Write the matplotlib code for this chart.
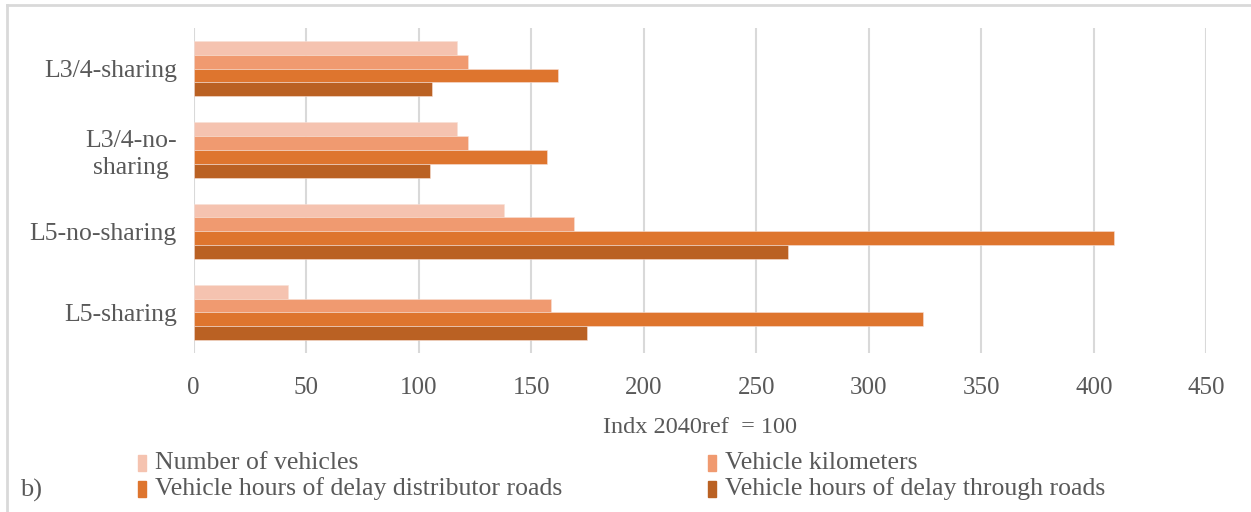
import matplotlib
matplotlib.use("Agg")
import matplotlib.pyplot as plt
from matplotlib.patches import Rectangle
import numpy as np

plt.rcParams['font.family'] = ['Liberation Serif', 'DejaVu Serif']

# data, top to bottom
scenarios = ["L3/4-sharing", "L3/4-no-\nsharing", "L5-no-sharing", "L5-sharing"]
series = ["Number of vehicles", "Vehicle kilometers",
          "Vehicle hours of delay distributor roads",
          "Vehicle hours of delay through roads"]
n_vehicles = [117, 117, 138, 42]
vehicle_km = [122, 122, 169, 159]
delay_distributor = [162, 157, 409, 324]
delay_through = [106, 105, 264, 175]
xticks = [0, 50, 100, 150, 200, 250, 300, 350, 400, 450]

colors = ["#F5C3B0", "#F09A70", "#DE752E", "#BA6123"]
txt_col = "#595959"

fig = plt.figure(figsize=(12.51, 5.12), dpi=100)
ax = fig.add_axes([0.1547, 0.3105, 0.9644 - 0.1547, 0.9453 - 0.3105])

values = [n_vehicles, vehicle_km, delay_distributor, delay_through]
h = 0.17
y = np.arange(len(scenarios))
for i, (vals, col) in enumerate(zip(values, colors)):
    ax.barh(y + (i - 1.5) * h, vals, height=h, color=col,
            edgecolor="#F8E0D6", linewidth=0.4, zorder=3)

ax.set_ylim(len(scenarios) - 0.5, -0.5)
ax.set_xlim(0, 450)
ax.set_xticks(xticks)
ax.set_yticks(y)
ax.set_yticklabels(scenarios, fontsize=18.5, color=txt_col, linespacing=1.25,
                   multialignment="center")
ax.set_xticklabels([str(t) for t in xticks], fontsize=18, color=txt_col)
ax.tick_params(axis="both", length=0)
ax.tick_params(axis="x", pad=17)
ax.tick_params(axis="y", pad=12)
ax.grid(True, axis="x", color="#D9D9D9", linewidth=1.5, zorder=0)
for s in ax.spines.values():
    s.set_visible(False)
ax.set_xlabel("Indx 2040ref  = 100", fontsize=17.5, color=txt_col, labelpad=13)

# legend drawn by hand
leg_pos = [(138, 463), (708, 463), (138, 489), (708, 489)]
W, H = 1251, 512
for (px, py), name, col in zip(leg_pos, series, colors):
    fig.patches.append(Rectangle((px / W, 1 - (py + 8) / H), 8 / W, 16 / H,
                                 transform=fig.transFigure, color=col))
    fig.text((px + 17) / W, 1 - py / H, name, fontsize=18.5, color=txt_col,
             va="center", ha="left")

fig.text(20 / W, 1 - 490 / H, "b)", fontsize=19, color=txt_col, va="center")

# frame around the chart
fig.add_artist(plt.Line2D([7 / W, 1], [1 - 5 / H, 1 - 5 / H],
                          transform=fig.transFigure, color="#D9D9D9", lw=2))
fig.add_artist(plt.Line2D([7 / W, 7 / W], [0, 1 - 5 / H],
                          transform=fig.transFigure, color="#D9D9D9", lw=2))

fig.savefig("out.png", dpi=100)
